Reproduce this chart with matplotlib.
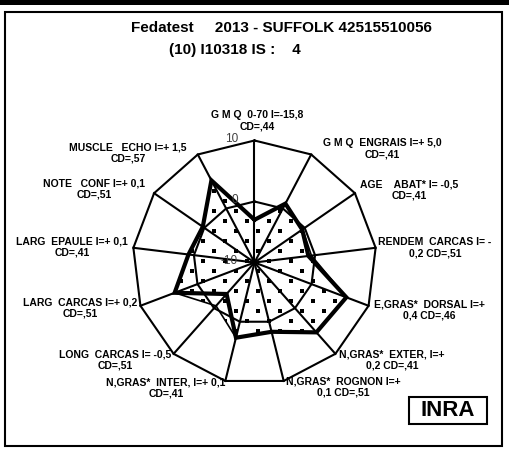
import numpy as np
import matplotlib
matplotlib.use("Agg")
import matplotlib.pyplot as plt
from matplotlib.patches import Rectangle, Polygon

plt.rcParams['font.family'] = ['Liberation Sans', 'DejaVu Sans']

# axes of the radar, clockwise from the top
labels = [
    "G M Q  0-70 I=-15,8\nCD=,44",
    "G M Q  ENGRAIS I=+ 5,0\nCD=,41",
    "AGE    ABAT* I= -0,5\nCD=,41",
    "RENDEM  CARCAS I= -\n0,2 CD=,51",
    "E,GRAS*  DORSAL I=+\n0,4 CD=,46",
    "N,GRAS*  EXTER, I=+\n0,2 CD=,41",
    "N,GRAS*  ROGNON I=+\n0,1 CD=,51",
    "N,GRAS*  INTER, I=+ 0,1\nCD=,41",
    "LONG  CARCAS I= -0,5\nCD=,51",
    "LARG  CARCAS I=+ 0,2\nCD=,51",
    "LARG  EPAULE I=+ 0,1\nCD=,41",
    "NOTE   CONF I=+ 0,1\nCD=,51",
    "MUSCLE   ECHO I=+ 1,5\nCD=,57",
]
# thick line series and dotted area series
ligne = [-3.0, 0.9, -0.5, -1.1, 6.1, 5.3, 1.7, 2.7, -3.1, 4.0, 0.9, 0.3, 5.2]
zone = [-3.0, 0.9, -0.4, -0.6, 6.1, 5.3, 1.7, 2.7, -0.5, 4.0, 0.9, 0.3, 5.2]
ring_values = [-10, 0, 10]
vmin, vmax = -10, 10

title1 = "Fedatest     2013 - SUFFOLK 42515510056"
title2 = "(10) I10318 IS :    4"

W, H = 509, 451
fig = plt.figure(figsize=(W / 100, H / 100), dpi=100)

# radar centre and radius in pixels
cx, cy, R = 254.5, 262.5, 122.0
half = 132.0
ax = fig.add_axes([(cx - half) / W, (H - cy - half) / H, 2 * half / W, 2 * half / H])
ax.set_xlim(-half / R, half / R)
ax.set_ylim(-half / R, half / R)
ax.axis('off')

n = len(labels)
theta = np.pi / 2 - np.arange(n) * 2 * np.pi / n


def to_xy(vals):
    r = (np.asarray(vals, dtype=float) - vmin) / (vmax - vmin)
    x = r * np.cos(theta)
    y = r * np.sin(theta)
    return np.append(x, x[0]), np.append(y, y[0])


# grid: spokes and polygon rings
for t in theta:
    ax.plot([0, np.cos(t)], [0, np.sin(t)], color='black', lw=1.5, zorder=1)
for v in ring_values[1:]:
    gx, gy = to_xy([v] * n)
    ax.plot(gx, gy, color='black', lw=1.5, zorder=1)

# dotted area: thin outline + dot texture clipped to it
zx, zy = to_xy(zone)
zpoly = Polygon(np.column_stack([zx, zy]), closed=True, facecolor='none',
                edgecolor='black', lw=1.2, zorder=2)
ax.add_patch(zpoly)
step_x, step_y = 22 / R, 10 / R
rows = np.arange(-1.05, 1.05, step_y)
dx, dy = [], []
for i, yy in enumerate(rows):
    xs = np.arange(-1.05 + (i % 2) * step_x / 2, 1.05, step_x)
    dx.extend(xs)
    dy.extend([yy] * len(xs))
dots = ax.scatter(dx, dy, s=6.5, marker='s', color='black', linewidths=0, zorder=2)
dots.set_clip_path(zpoly)

# thick line
lx, ly = to_xy(ligne)
ax.plot(lx, ly, color='black', lw=3.0, solid_joinstyle='miter', zorder=3)

# ring value labels
for v in ring_values:
    r = (v - vmin) / (vmax - vmin)
    ax.text(-16.5 / R, r + 1.5 / R, str(v), ha='right', va='center',
            fontsize=8.5, color='#404040', zorder=4)

# category label positions (pixels, centre of the two-line block)
label_pos = [
    (257, 121), (382, 149), (409, 190), (435, 248), (429, 310),
    (392, 360), (343, 387), (166, 388), (115, 360), (80, 308),
    (72, 247), (94, 189), (128, 153),
]
for txt, (px, py) in zip(labels, label_pos):
    fig.text(px / W, 1 - py / H, txt, ha='center', va='center',
             fontsize=7.5, fontweight='bold', linespacing=1.15)

# titles
fig.text(281 / W, 1 - 28 / H, title1, ha='center', va='center',
         fontsize=11, fontweight='bold')
fig.text(234.5 / W, 1 - 50 / H, title2, ha='center', va='center',
         fontsize=11, fontweight='bold')

# frame and top band
fig.add_artist(Rectangle((0, 1 - 5 / H), 1, 5 / H, transform=fig.transFigure,
                         facecolor='black', edgecolor='none'))
fig.add_artist(Rectangle((5 / W, 1 - 446 / H), 497 / W, 434 / H,
                         transform=fig.transFigure, fill=False, lw=1.5,
                         edgecolor='black'))

# INRA box
fig.add_artist(Rectangle((409 / W, 1 - 424 / H), 78 / W, 27 / H,
                         transform=fig.transFigure, fill=False, lw=1.5,
                         edgecolor='black'))
fig.text(448 / W, 1 - 411 / H, "INRA", ha='center', va='center',
         fontsize=16, fontweight='bold')

fig.savefig("out.png", dpi=100)
